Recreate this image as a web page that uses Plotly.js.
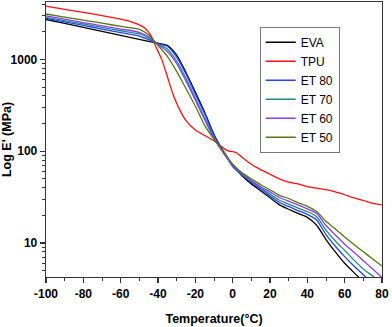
<!DOCTYPE html>
<html>
<head>
<meta charset="utf-8">
<script src="https://cdn.plot.ly/plotly-3.0.1.min.js"></script>
<style>
  html, body { margin: 0; padding: 0; background: #fff; }
  #chart { width: 392px; height: 327px; }
</style>
</head>
<body>
<div id="chart"></div>
<script>
// temperatures (°C) shared by EVA and the blends
const temps = [-100, -90, -80, -70, -60, -50, -45, -40, -35, -30, -25, -20, -15, -10, -5, 0,
  5, 10, 15, 20, 25, 30, 35, 40, 45, 50, 55, 60, 65, 70, 75, 80];

const eva  = [2720, 2460, 2230, 2015, 1825, 1650, 1570, 1500, 1420, 1110, 720, 440, 265, 152, 100, 70,
  54, 44, 37, 31, 26, 23.3, 21, 19, 15.6, 10.9, 8.0, 6.0, 4.75, 3.8, 3.0, 2.4];
const et80 = [2800, 2560, 2340, 2140, 1960, 1795, 1640, 1480, 1390, 1060, 690, 420, 255, 148, 99, 68,
  55, 46, 38.5, 32.5, 27.6, 25, 22.5, 20.5, 17.8, 12.3, 9.2, 7.1, 5.6, 4.5, 3.6, 2.9];
const et70 = [2870, 2640, 2430, 2230, 2050, 1890, 1700, 1460, 1300, 960, 620, 380, 230, 140, 97, 70,
  56, 47, 40, 34, 29.2, 26.5, 24, 22, 19.3, 13.8, 10.5, 8.3, 6.5, 5.2, 4.35, 3.6];
const et60 = [2985, 2740, 2520, 2320, 2140, 1970, 1760, 1450, 1220, 900, 580, 360, 220, 137, 96, 71,
  57, 48, 41, 36, 31.3, 28.5, 26, 23.5, 21, 15.5, 12.2, 9.7, 7.9, 6.4, 5.2, 4.2];
const et50 = [3120, 2890, 2675, 2480, 2290, 2125, 1850, 1420, 1080, 740, 480, 310, 191, 135, 100, 72,
  58, 50, 43, 38, 33, 30.5, 27.5, 25, 22, 17.2, 14.2, 11.6, 9.6, 8.0, 6.7, 5.6];

// TPU has its own sampling (sharper transition)
const tempsTpu = [-100, -90, -80, -70, -60, -55, -50, -47, -44, -41, -38, -35, -32, -29, -25, -20,
  -15, -10, -5, -2, 0, 2, 5, 10, 15, 20, 25, 30, 35, 40, 45, 50, 55, 60, 65, 70, 75, 80];
const tpu = [3800, 3500, 3250, 3000, 2750, 2600, 2380, 2200, 1850, 1350, 1000, 650, 420, 300, 215, 170,
  148, 130, 108, 100, 99, 96, 86, 72, 63, 56, 50, 46, 44, 41, 39.5, 38, 36, 33.5, 31, 29, 27, 26];

const names = ['EVA', 'TPU', 'ET 80', 'ET 70', 'ET 60', 'ET 50'];
const colors = ['#000000', '#ff1010', '#2244ff', '#218a7e', '#8b3cf2', '#4f7a12'];

const xTickVals = [-100, -80, -60, -40, -20, 0, 20, 40, 60, 80];
const xTickText = ['-100', '-80', '-60', '-40', '-20', '0', '20', '40', '60', '80'];
const yTickVals = [10, 100, 1000];
const yTickText = ['10', '100', '1000'];

const seriesX = [temps, tempsTpu, temps, temps, temps, temps];
const seriesY = [eva, tpu, et80, et70, et60, et50];

const data = names.map((n, i) => ({
  x: seriesX[i], y: seriesY[i], type: 'scatter', mode: 'lines', name: n,
  line: { color: colors[i], width: 1.3, shape: 'spline', smoothing: 0.6 }
}));

const tickFont = { family: 'Liberation Sans, Arial, sans-serif', size: 12, color: '#000', weight: 'bold' };
const titleFont = { family: 'Liberation Sans, Arial, sans-serif', size: 12.5, color: '#000', weight: 'bold' };

const layout = {
  width: 392, height: 327,
  paper_bgcolor: '#fff', plot_bgcolor: '#fff',
  margin: { l: 45.5, r: 10, t: 2, b: 50 },
  showlegend: true,
  legend: {
    x: 0.636, y: 0.91, xanchor: 'left', yanchor: 'top',
    bgcolor: '#fff', bordercolor: '#777', borderwidth: 1,
    font: { family: 'Liberation Sans, Arial, sans-serif', size: 12, color: '#000' },
    tracegroupgap: 0
  },
  xaxis: {
    range: [-100, 80], tickvals: xTickVals, ticktext: xTickText,
    ticks: 'outside', ticklen: 5, tickwidth: 1.2, tickcolor: '#333',
    minor: { tickvals: [-90, -70, -50, -30, -10, 10, 30, 50, 70],
             ticks: 'outside', ticklen: 3, tickwidth: 1, tickcolor: '#333', showgrid: false },
    showline: true, mirror: true, linecolor: '#333', linewidth: 1.3,
    showgrid: false, zeroline: false,
    tickfont: tickFont,
    title: { text: 'Temperature(°C)', font: titleFont, standoff: 14 }
  },
  yaxis: {
    type: 'log', range: [0.629, 3.625],
    tickvals: yTickVals, ticktext: yTickText,
    ticks: 'outside', ticklen: 5, tickwidth: 1.2, tickcolor: '#333',
    minor: { tickvals: [5, 6, 7, 8, 9, 20, 30, 40, 50, 60, 70, 80, 90, 200, 300, 400, 500, 600, 700, 800, 900, 2000, 3000, 4000],
             ticks: 'outside', ticklen: 3, tickwidth: 1, tickcolor: '#333', showgrid: false },
    showline: true, mirror: true, linecolor: '#333', linewidth: 1.3,
    showgrid: false, zeroline: false,
    tickfont: tickFont,
    title: { text: "Log E' (MPa)", font: titleFont, standoff: 6 }
  }
};

Plotly.newPlot('chart', data, layout, { displayModeBar: false, staticPlot: true });
</script>
</body>
</html>
